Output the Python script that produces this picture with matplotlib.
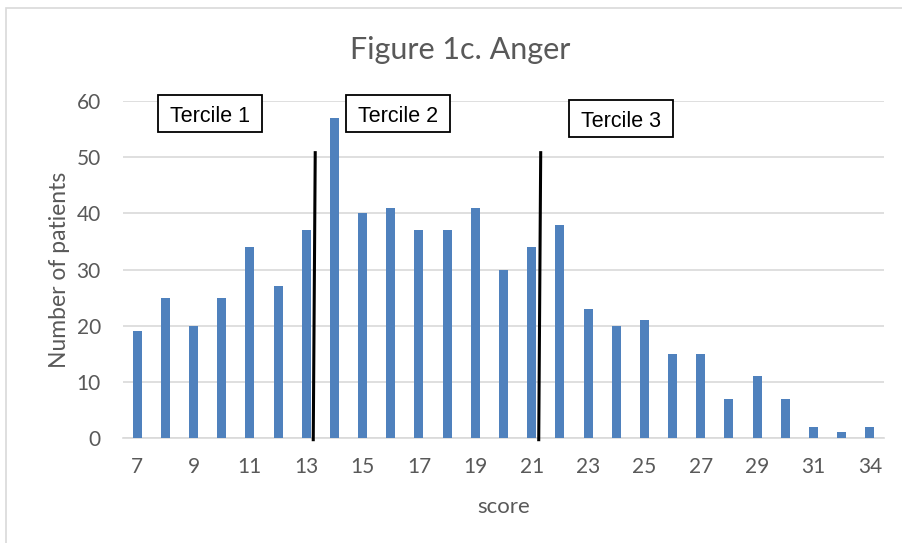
import numpy as np
import matplotlib.pyplot as plt
from matplotlib.patches import Rectangle

# anger score distribution
scores = ['7', '8', '9', '10', '11', '12', '13', '14', '15', '16', '17', '18', '19', '20',
          '21', '22', '23', '24', '25', '26', '27', '28', '29', '30', '31', '32', '34']
patients = [19, 25, 20, 25, 34, 27, 37, 57, 40, 41, 37, 37, 41, 30,
            34, 38, 23, 20, 21, 15, 15, 7, 11, 7, 2, 1, 2]

tercile_labels = ['Tercile 1', 'Tercile 2', 'Tercile 3']
# cut lines drawn by hand between categories (position in category index units)
tercile_cuts = [6.3, 14.3]
cut_top = 50.8

W, H = 903, 543
fig = plt.figure(figsize=(W / 100, H / 100), dpi=100)
ax = fig.add_axes([123 / W, 1 - 438 / H, (884 - 123) / W, (438 - 101) / H])

grey = '#595959'
x = np.arange(len(scores))
ax.bar(x, patients, width=0.32, color='#4f81bd', zorder=3)

ax.set_xlim(-0.5, len(scores) - 0.5)
ax.set_ylim(0, 60)
ax.set_yticks(range(0, 61, 10))
ax.set_xticks(x[::2])
ax.set_xticklabels(scores[::2])
ax.grid(axis='y', color='#d9d9d9', linewidth=1.2, zorder=0)
for s in ['top', 'right', 'left']:
    ax.spines[s].set_visible(False)
ax.spines['bottom'].set_color('#d9d9d9')
ax.spines['bottom'].set_linewidth(1.2)
ax.tick_params(length=0, labelsize=15, labelcolor=grey, pad=14)
ax.tick_params(axis='y', pad=16)
for lab in ax.get_xticklabels() + ax.get_yticklabels():
    lab.set_family('Lato')

ax.set_xlabel('score', fontsize=16, color=grey, family='Lato', labelpad=14)
ax.set_ylabel('Number of patients', fontsize=16.5, color=grey, family='Lato', labelpad=5)

# tercile cut lines
for c in tercile_cuts:
    ax.plot([c - 0.05, c + 0.02], [-0.3, cut_top], color='black', linewidth=2.2,
            zorder=4, clip_on=False)

fig.text(460 / W, 1 - 50 / H, 'Figure 1c. Anger', ha='center', va='center',
         fontsize=22, color=grey, family='Lato')

# tercile boxes (pixel corners: left, top, right, bottom)
boxes = [(158, 95, 262, 132), (346, 95, 450, 132), (569, 100, 673, 137)]
for lab, (l, t, r, b) in zip(tercile_labels, boxes):
    fig.patches.append(Rectangle((l / W, 1 - b / H), (r - l) / W, (b - t) / H,
                                 transform=fig.transFigure, fc='white', ec='black',
                                 lw=1.3, zorder=5))
    fig.text((l + r) / 2 / W, 1 - ((t + b) / 2 + 3) / H, lab, ha='center', va='center',
             fontsize=15.5, family='Liberation Sans', zorder=6)

# outer chart frame (only left and top edges fall inside the picture)
fig.patches.append(Rectangle((6 / W, -0.05), 1.0, 1.05 - 8 / H, transform=fig.transFigure,
                             fill=False, ec='#d9d9d9', lw=1.2))

fig.savefig('out.png', dpi=100)
